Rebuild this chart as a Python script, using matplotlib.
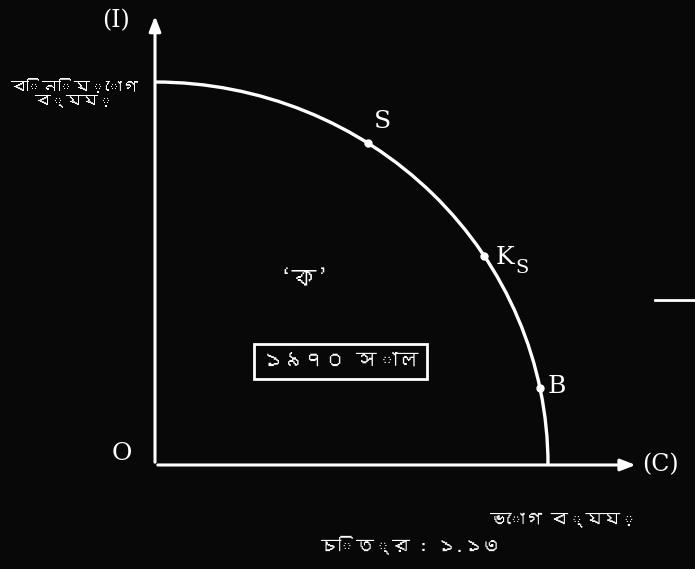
import matplotlib
matplotlib.use("Agg")
import matplotlib.pyplot as plt
from matplotlib import font_manager
from matplotlib.ft2font import FT2Font
from matplotlib.patches import Arc


def find_bengali_font():
    # pick any installed font that has Bengali letters
    for path in font_manager.findSystemFonts():
        try:
            if 0x0995 in FT2Font(path).get_charmap():
                font_manager.fontManager.addfont(path)
                return font_manager.FontProperties(fname=path).get_name()
        except Exception:
            continue
    return None


bn_font = find_bengali_font()
bn_family = [bn_font, "DejaVu Sans"] if bn_font else ["DejaVu Sans"]

# frontier intercepts (consumption, investment)
c_max = 10.0
i_max = 9.75

# named points on the frontier
point_names = ["S", "K", "B"]
point_c = [5.42, 8.37, 9.80]
point_i = [8.20, 5.32, 1.96]

fg = "white"
bg = "#080808"

fig = plt.figure(figsize=(6.95, 5.69), dpi=100, facecolor=bg)
ax = fig.add_axes([0, 0, 1, 1], facecolor=bg)
ax.set_xlim(-3.944, 13.74)
ax.set_ylim(-2.648, 11.838)
ax.axis("off")

# axes with arrow heads
ax.annotate("", xy=(12.3, 0), xytext=(0, 0),
            arrowprops=dict(arrowstyle="-|>,head_length=0.9,head_width=0.35", color=fg, lw=2.2))
ax.annotate("", xy=(0, 11.5), xytext=(0, 0),
            arrowprops=dict(arrowstyle="-|>,head_length=0.9,head_width=0.35", color=fg, lw=2.2))

# production possibility frontier
ax.add_patch(Arc((0, 0), 2 * c_max, 2 * i_max, theta1=0, theta2=90, color=fg, lw=2.4))
ax.plot(point_c, point_i, "o", color=fg, markersize=5)

serif = "DejaVu Serif"
ax.text(point_c[0] + 0.15, point_i[0] + 0.25, point_names[0], color=fg, fontsize=18, family=serif, va="bottom")
ax.text(point_c[1] + 0.3, point_i[1] - 0.05, point_names[1], color=fg, fontsize=18, family=serif, va="center")
ax.text(point_c[1] + 0.8, point_i[1] - 0.3, "S", color=fg, fontsize=14, family=serif, va="center")
ax.text(point_c[2] + 0.2, point_i[2] + 0.05, point_names[2], color=fg, fontsize=18, family=serif, va="center")

ax.text(-0.85, 0.3, "O", color=fg, fontsize=18, family=serif, ha="center", va="center")
ax.text(-1.0, 11.3, "(I)", color=fg, fontsize=17, family=serif, ha="center", va="center")
ax.text(12.4, 0, "(C)", color=fg, fontsize=17, family=serif, ha="left", va="center")

ax.text(-2.05, 9.45, "বিনিয়োগ\nব্যয়", color=fg, fontsize=11.5, family=bn_family,
        ha="center", va="center", linespacing=1.1)
ax.text(3.8, 4.7, "‘ক’", color=fg, fontsize=18, family=bn_family, ha="center", va="center")
ax.text(4.72, 2.64, "১৯৭০ সাল", color=fg, fontsize=15, family=bn_family, ha="center", va="center",
        bbox=dict(boxstyle="square,pad=0.4", facecolor=bg, edgecolor=fg, lw=2))
ax.text(10.4, -1.4, "ভোগ ব্যয়", color=fg, fontsize=12.5, family=bn_family, ha="center", va="center")
ax.text(6.5, -2.05, "চিত্র : ১.১৩", color=fg, fontsize=13, family=bn_family, ha="center", va="center")

# stray rule from the neighbouring figure
ax.plot([12.72, 14.0], [4.2, 4.2], color=fg, lw=2)

fig.savefig("out.png", dpi=100, facecolor=bg)
